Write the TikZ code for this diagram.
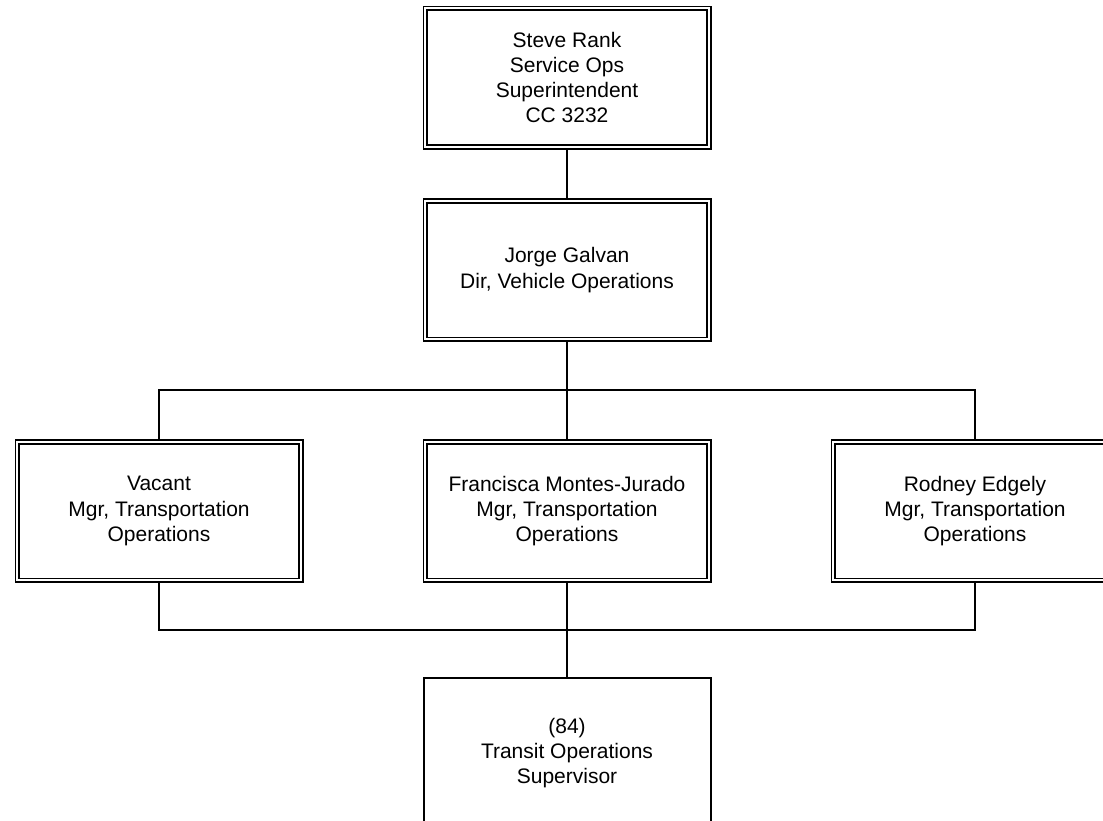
\documentclass[tikz,border=0pt]{standalone}
\usepackage{fontspec}
\setmainfont{Liberation Sans}
\begin{document}
\begin{tikzpicture}[x=1pt,y=-1pt,
  dbox/.style={draw=black, double=white, double distance=2pt, line width=1.75pt,
    minimum width=283.5pt, minimum height=138.5pt, outer sep=2.75pt, inner sep=0pt,
    align=center, font=\fontsize{21}{25.3}\selectfont},
  sbox/.style={draw=black, line width=2pt, minimum width=287pt, minimum height=150pt,
    outer sep=1pt, inner sep=0pt, align=center, font=\fontsize{21}{25.3}\selectfont},
  conn/.style={draw=black, line width=2pt}]
\useasboundingbox (0,0) rectangle (1103,820);
\clip (0,0) rectangle (1103,820);
\node[dbox] (top) at (567,77.5) {Steve Rank\\Service Ops\\Superintendent\\CC 3232};
\node[dbox] (dir) at (567,270) {Jorge Galvan\\Dir, Vehicle Operations};
\node[dbox] (left) at (159,511) {Vacant\\Mgr, Transportation\\Operations};
\node[dbox] (mid) at (567,511) {Francisca Montes-Jurado\\Mgr, Transportation\\Operations};
\node[dbox] (right) at (975,511) {Rodney Edgely\\Mgr, Transportation\\Operations};
\node[sbox] (sup) at (567,753) {(84)\\Transit Operations\\Supervisor};
\coordinate (busA) at (567,390);
\coordinate (busB) at (567,630);
\draw[conn] (top.south) -- (dir.north);
\draw[conn] (dir.south) -- (busA);
\draw[conn] (left.north) |- (busA) -| (right.north);
\draw[conn] (busA) -- (mid.north);
\draw[conn] (left.south) |- (busB) -| (right.south);
\draw[conn] (mid.south) -- (busB);
\draw[conn] (busB) -- (sup.north);
\end{tikzpicture}
\end{document}
